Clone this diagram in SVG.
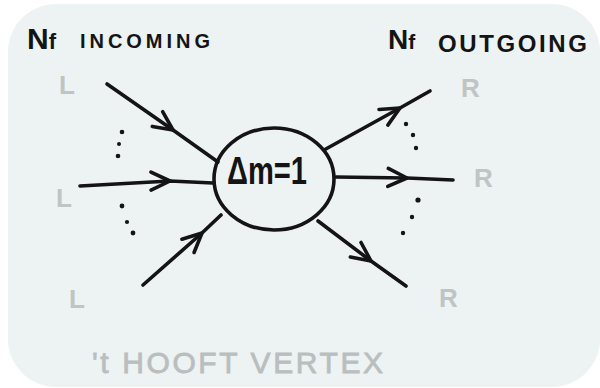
<svg xmlns="http://www.w3.org/2000/svg" width="600" height="388" viewBox="0 0 600 388">
  <style>
    .ink { fill: none; stroke: #141414; stroke-width: 3.6; stroke-linecap: round; stroke-linejoin: round; }
    .dot { fill: #141414; }
    .title { font-family: "Liberation Sans", Arial, sans-serif; font-weight: bold; fill: #141414; }
    .lbl { font-family: "Liberation Sans", Arial, sans-serif; font-weight: bold; fill: #bfc4c4; font-size: 26px; }
    .foot { font-family: "Liberation Sans", Arial, sans-serif; fill: #b9bebe; font-size: 30px; stroke: #b9bebe; stroke-width: 0.8; }
    .vtx { font-family: "Liberation Sans", Arial, sans-serif; font-weight: bold; fill: #141414; font-size: 38px; }
  </style>
  <defs>
    <marker id="chev" markerUnits="userSpaceOnUse" markerWidth="40" markerHeight="40" refX="0" refY="0" orient="auto" overflow="visible">
      <path d="M -19,-9 L 0,0 L -19,9" fill="none" stroke="#141414" stroke-width="3.6" stroke-linecap="round" stroke-linejoin="round"/>
    </marker>
  </defs>

  <rect id="background" x="8" y="4" width="592" height="383" rx="48" ry="48" fill="#edf2f2"/>

  <g id="titles">
    <text class="title" x="27" y="49" font-size="30">N<tspan font-size="22">f</tspan></text>
    <text class="title" x="80" y="48" font-size="20" textLength="130" lengthAdjust="spacing">INCOMING</text>
    <text class="title" x="388" y="49" font-size="28">N<tspan font-size="21">f</tspan></text>
    <text class="title" x="438" y="52" font-size="24" textLength="149" lengthAdjust="spacing">OUTGOING</text>
  </g>

  <g id="connectors">
    <path class="ink" marker-mid="url(#chev)" d="M 107,84 L 173,130 L 218,162"/>
    <path class="ink" marker-mid="url(#chev)" d="M 80,186 L 170,181 L 213,183"/>
    <path class="ink" marker-mid="url(#chev)" d="M 143,285 L 202,233 L 221,215"/>
    <path class="ink" marker-mid="url(#chev)" d="M 324,150 L 400,108 L 430,91"/>
    <path class="ink" marker-mid="url(#chev)" d="M 336,177 L 407,178 L 453,180"/>
    <path class="ink" marker-mid="url(#chev)" d="M 318,221 L 371,261 L 406,286"/>
  </g>

  <g id="vertex">
    <ellipse class="ink" cx="274" cy="179" rx="60" ry="51"/>
    <text class="vtx" x="227" y="184" textLength="80" lengthAdjust="spacingAndGlyphs">Δm=1</text>
  </g>

  <g id="dots-left">
    <circle class="dot" cx="122" cy="132" r="2.3"/>
    <circle class="dot" cx="119" cy="144" r="2"/>
    <circle class="dot" cx="118" cy="156" r="2.3"/>
    <circle class="dot" cx="122" cy="206" r="2.4"/>
    <circle class="dot" cx="127" cy="222" r="2.1"/>
    <circle class="dot" cx="133" cy="233" r="2.4"/>
  </g>
  <g id="dots-right">
    <circle class="dot" cx="406" cy="124" r="2.2"/>
    <circle class="dot" cx="413" cy="135" r="2.2"/>
    <circle class="dot" cx="416" cy="148" r="2.2"/>
    <circle class="dot" cx="418" cy="200" r="2.6"/>
    <circle class="dot" cx="412" cy="217" r="2.2"/>
    <circle class="dot" cx="403" cy="233" r="2.2"/>
  </g>

  <g id="in-L1"><text class="lbl" x="59" y="94">L</text></g>
  <g id="in-L2"><text class="lbl" x="56" y="207">L</text></g>
  <g id="in-L3"><text class="lbl" x="69" y="308">L</text></g>
  <g id="out-R1"><text class="lbl" x="461" y="97">R</text></g>
  <g id="out-R2"><text class="lbl" x="474" y="187">R</text></g>
  <g id="out-R3"><text class="lbl" x="439" y="307" font-size="28">R</text></g>

  <g id="caption">
    <text class="foot" x="92" y="373" textLength="291" lengthAdjust="spacing">'t HOOFT VERTEX</text>
  </g>
</svg>
